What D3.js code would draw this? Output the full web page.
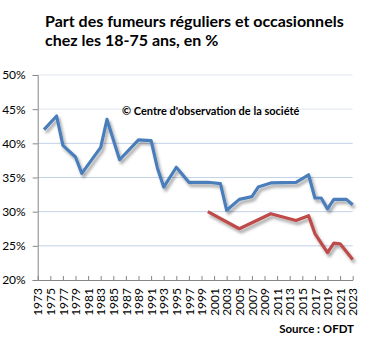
<!DOCTYPE html>
<html>
<head>
<meta charset="utf-8">
<script src="https://cdn.jsdelivr.net/npm/d3@7"></script>
<style>
  html, body { margin: 0; padding: 0; background: #fff; }
  svg { display: block; font-family: Lato, "Open Sans", sans-serif; }
</style>
</head>
<body>
<svg id="chart" width="376" height="345"></svg>
<script>
// Smokers (regular + occasional), 18-75 year olds, % — two survey series
const blueYears  = [1974, 1976, 1977, 1979, 1980, 1983, 1984, 1986, 1989, 1991, 1992, 1993, 1995, 1997, 2000, 2002, 2003, 2005, 2007, 2008, 2010, 2014, 2016, 2017, 2018, 2019, 2020, 2021, 2022, 2023];
const blueValues = [42.0, 44.0, 39.7, 38.0, 35.6, 39.4, 43.5, 37.6, 40.5, 40.4, 36.4, 33.6, 36.5, 34.3, 34.3, 34.1, 30.2, 31.8, 32.2, 33.6, 34.2, 34.3, 35.4, 32.0, 32.0, 30.4, 31.8, 31.8, 31.8, 31.0];
const redYears   = [2000, 2005, 2010, 2014, 2016, 2017, 2019, 2020, 2021, 2023];
const redValues  = [30.0, 27.5, 29.7, 28.7, 29.4, 26.8, 24.0, 25.4, 25.3, 23.0];
const yTicks = [20, 25, 30, 35, 40, 45, 50];
const xTickYears = d3.range(1973, 2024, 2);

const titleLines = ["Part des fumeurs réguliers et occasionnels", "chez les 18-75 ans, en %"];
const watermark = "© Centre d'observation de la société";
const sourceText = "Source : OFDT";

const svg = d3.select("#chart");
const x = d3.scaleLinear().domain([1973, 2023]).range([37.7, 352.7]);
const y = d3.scaleLinear().domain([20, 50]).range([280, 75]);

// drop shadow used by both lines
const defs = svg.append("defs");
const f = defs.append("filter").attr("id", "shadow")
  .attr("x", "-10%").attr("y", "-10%").attr("width", "130%").attr("height", "140%");
f.append("feDropShadow").attr("dx", 2).attr("dy", 3).attr("stdDeviation", 1.6)
  .attr("flood-color", "#000").attr("flood-opacity", 0.35);

// title
svg.append("g").selectAll("text").data(titleLines).join("text")
  .attr("x", 45).attr("y", (d, i) => 26.5 + i * 19.5)
  .attr("font-size", 16).attr("font-weight", "bold").attr("fill", "#000")
  .text(d => d);

// gridlines
svg.append("g").selectAll("line").data(yTicks.filter(v => v > 20)).join("line")
  .attr("x1", x(1973)).attr("x2", x(2023))
  .attr("y1", d => y(d)).attr("y2", d => y(d))
  .attr("stroke", d => d >= 45 ? "#dfe6ef" : "#c2d2e8").attr("stroke-width", 1);

// y axis
const yAxis = svg.append("g").attr("transform", `translate(${x(1973)},0)`)
  .call(d3.axisLeft(y).tickValues(yTicks).tickFormat(d => d + "%").tickSize(5).tickPadding(7));
yAxis.select(".domain").attr("stroke", "#868686");
yAxis.selectAll(".tick line").attr("stroke", "#868686");
yAxis.selectAll("text").attr("font-size", 12).attr("fill", "#000")
  .attr("font-family", "Lato, sans-serif");

// x axis, ticks pointing into the plot
const xAxis = svg.append("g").attr("transform", `translate(0,${y(20)})`)
  .call(d3.axisBottom(x).tickValues(xTickYears).tickFormat(d3.format("d")).tickSizeInner(-4).tickSizeOuter(0));
xAxis.select(".domain").attr("stroke", "#868686");
xAxis.selectAll(".tick line").attr("stroke", "#868686");
xAxis.selectAll("text")
  .attr("font-size", 12).attr("fill", "#000").attr("font-family", "Lato, sans-serif")
  .attr("text-anchor", "end")
  .attr("transform", "rotate(-90)")
  .attr("x", -8).attr("y", 0).attr("dy", "0.35em");

// watermark
svg.append("text").attr("x", 122).attr("y", 115)
  .attr("font-size", 11).attr("font-weight", "bold").attr("fill", "#000")
  .text(watermark);

// lines
const line = d3.line().x(d => x(d[0])).y(d => y(d[1]));
svg.append("path").datum(d3.zip(blueYears, blueValues))
  .attr("d", line).attr("fill", "none").attr("stroke", "#4a7ebb").attr("stroke-width", 3.2)
  .attr("stroke-linejoin", "round").attr("filter", "url(#shadow)");
svg.append("path").datum(d3.zip(redYears, redValues))
  .attr("d", line).attr("fill", "none").attr("stroke", "#be4b48").attr("stroke-width", 3.2)
  .attr("stroke-linejoin", "round").attr("filter", "url(#shadow)");

// source
svg.append("text").attr("x", 354).attr("y", 333).attr("text-anchor", "end")
  .attr("font-size", 11.5).attr("font-weight", "bold").attr("fill", "#000")
  .text(sourceText);
</script>
</body>
</html>
